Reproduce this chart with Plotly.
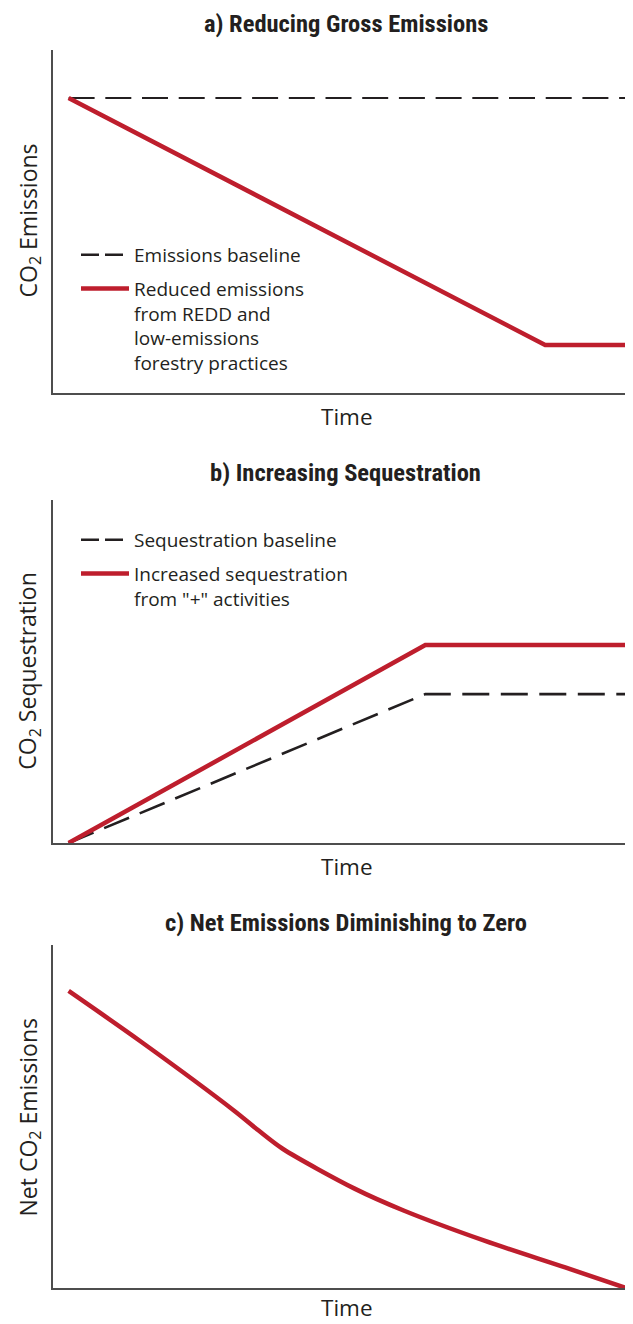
import plotly.graph_objects as go

# ---------------- data ----------------
# Panel a) Reducing Gross Emissions
t_a_baseline = [0, 102]
a_baseline = [86, 86]
t_a_reduced = [0, 85.5, 100]
a_reduced = [86, 14, 14]

# Panel b) Increasing Sequestration
t_b_baseline = [0, 64, 102]
b_baseline = [0, 43.4, 43.4]
t_b_increased = [0, 64, 100]
b_increased = [0, 57.7, 57.7]

# Panel c) Net Emissions Diminishing to Zero
t_c = [0, 13.0, 29.7, 34.1, 38.4, 51.4, 60.1, 74.6, 89.1, 100]
c_net = [86.6, 71.8, 51.7, 45.9, 40.6, 28.9, 22.6, 13.8, 6.0, 0]

titles = ["a) Reducing Gross Emissions",
          "b) Increasing Sequestration",
          "c) Net Emissions Diminishing to Zero"]
ylabels = ["CO<sub>2</sub> Emissions",
           "CO<sub>2</sub> Sequestration",
           "Net CO<sub>2</sub> Emissions"]
xlabel = "Time"
legend_a = ["Emissions baseline",
            "Reduced emissions<br>from REDD and<br>low-emissions<br>forestry practices"]
legend_b = ["Sequestration baseline",
            'Increased sequestration<br>from "+" activities']

# ---------------- style ----------------
OFF = 8  # page body margin of the browser
W, H = 633 - OFF, 1324 - OFF
RED = "#BE1E2D"
BLACK = "#231F20"
AXIS = "#4D4D4D"
TITLE_FONT = "Roboto Condensed, Roboto, sans-serif"
TEXT_FONT = "Open Sans, Noto Sans, sans-serif"


def py(p):  # reference pixel from top -> paper y
    return 1 - (p - OFF) / H


def px(p):
    return (p - OFF) / W


x_dom = [px(52.5), 1.0]
y_doms = [[py(393), py(50)], [py(843), py(500)], [py(1288), py(945)]]
x_range = [-2.89, 101.26]

fig = go.Figure()


def legend_entry(name, legend, color, width, dash):
    # legend-only key (no data)
    fig.add_trace(go.Scatter(x=[None], y=[None], mode="lines", name=name,
                             legend=legend, legendgroup=name,
                             line=dict(color=color, width=width, dash=dash),
                             xaxis="x", yaxis="y", hoverinfo="skip"))


# panel a
fig.add_trace(go.Scatter(x=t_a_baseline, y=a_baseline, mode="lines", showlegend=False,
                         line=dict(color=BLACK, width=2.2, dash="26px,10.7px"),
                         xaxis="x", yaxis="y", hoverinfo="skip"))
fig.add_trace(go.Scatter(x=t_a_reduced, y=a_reduced, mode="lines", showlegend=False,
                         line=dict(color=RED, width=4.5),
                         xaxis="x", yaxis="y", hoverinfo="skip"))
legend_entry(legend_a[0], "legend", BLACK, 2.5, "18px,6px")
legend_entry(legend_a[1], "legend", RED, 4.5, "solid")
# panel b
fig.add_trace(go.Scatter(x=t_b_baseline, y=b_baseline, mode="lines", showlegend=False,
                         line=dict(color=BLACK, width=2.6, dash="27px,11.5px"),
                         xaxis="x2", yaxis="y2", hoverinfo="skip"))
fig.add_trace(go.Scatter(x=t_b_increased, y=b_increased, mode="lines", showlegend=False,
                         line=dict(color=RED, width=4.5),
                         xaxis="x2", yaxis="y2", hoverinfo="skip"))
legend_entry(legend_b[0], "legend2", BLACK, 2.5, "18px,6px")
legend_entry(legend_b[1], "legend2", RED, 4.5, "solid")
# panel c
fig.add_trace(go.Scatter(x=t_c, y=c_net, mode="lines", showlegend=False,
                         line=dict(color=RED, width=4.5, shape="spline", smoothing=0.8),
                         xaxis="x3", yaxis="y3", hoverinfo="skip"))

axis_common = dict(showgrid=False, zeroline=False, showticklabels=False,
                   ticks="", showline=True, linecolor=AXIS, linewidth=1.5,
                   fixedrange=True)

layout = dict(
    width=W, height=H,
    margin=dict(l=0, r=0, t=0, b=0),
    paper_bgcolor="white", plot_bgcolor="white",
    font=dict(family=TEXT_FONT, color=BLACK),
    showlegend=True,
)
for i in range(3):
    s = "" if i == 0 else str(i + 1)
    layout["xaxis" + s] = dict(domain=x_dom, range=x_range,
                               anchor="y" + s, **axis_common)
    layout["yaxis" + s] = dict(domain=y_doms[i], range=[0, 100],
                               anchor="x" + s, **axis_common)

legend_common = dict(xanchor="left", yanchor="top", bgcolor="rgba(0,0,0,0)",
                     font=dict(family=TEXT_FONT, size=19, color=BLACK),
                     itemwidth=48, valign="top", tracegroupgap=6,
                     itemclick=False, itemdoubleclick=False)
layout["legend"] = dict(x=px(76), y=py(236), **legend_common)
layout["legend2"] = dict(x=px(76), y=py(521), **legend_common)

annotations = []
title_y = [22.5, 471.5, 921.5]
time_y = [415, 865, 1306.5]
ylab_y = [220.5, 671.7, 1117.5]
for i in range(3):
    annotations.append(dict(text="<b>" + titles[i] + "</b>", xref="paper", yref="paper",
                            x=px(346), y=py(title_y[i] + 1), xanchor="center", yanchor="middle",
                            showarrow=False,
                            font=dict(family=TITLE_FONT, size=24.5, color=BLACK)))
    annotations.append(dict(text=xlabel, xref="paper", yref="paper",
                            x=px(347), y=py(time_y[i] + 1), xanchor="center", yanchor="middle",
                            showarrow=False,
                            font=dict(family=TEXT_FONT, size=22.5, color=BLACK)))
    annotations.append(dict(text=ylabels[i], xref="paper", yref="paper",
                            x=px(29), y=py(ylab_y[i]), xanchor="center", yanchor="middle",
                            textangle=-90, showarrow=False,
                            font=dict(family=TEXT_FONT, size=23, color=BLACK)))
layout["annotations"] = annotations

fig.update_layout(**layout)
fig.write_html("out.html", config={"displayModeBar": False})
